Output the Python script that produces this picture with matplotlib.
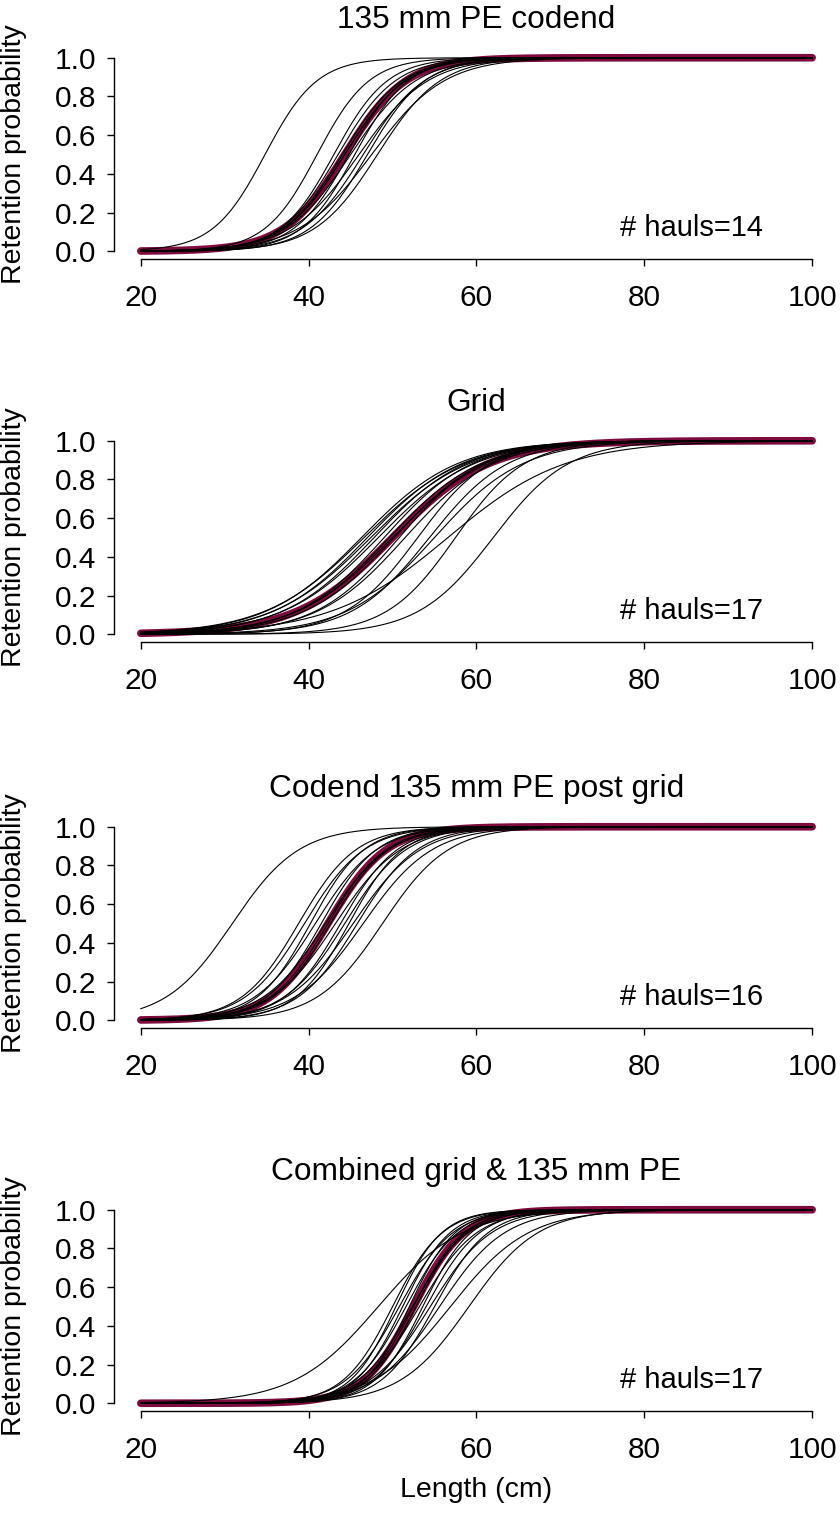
import numpy as np
import matplotlib
matplotlib.use("Agg")
import matplotlib.pyplot as plt

plt.rcParams['font.family'] = ['Liberation Sans', 'DejaVu Sans']

titles = ["135 mm PE codend", "Grid", "Codend 135 mm PE post grid", "Combined grid & 135 mm PE"]
n_hauls = [14, 17, 16, 17]

# per-haul logistic parameters (L50, SR)
p1_l50 = [34.8, 41.0, 43.0, 43.5, 44.0, 44.3, 44.8, 45.0, 45.5, 46.0, 46.5, 47.0, 47.5, 48.2]
p1_sr = [6.8, 6.8, 7.0, 7.5, 7.8, 8.0, 7.2, 8.5, 7.0, 9.0, 8.0, 7.5, 9.5, 8.2]
p2_l50 = [46.3, 46.6, 47.0, 47.4, 47.8, 48.3, 49.0, 49.6, 50.2, 50.8, 51.5, 53.0, 54.4, 55.0, 56.6, 57.5, 62.0]
p2_sr = [12.5, 13.0, 12.3, 12.8, 12.0, 12.5, 11.5, 12.0, 11.8, 11.0, 11.5, 9.5, 10.2, 11.5, 15.3, 9.0, 9.8]
p3_l50 = [30.9, 38.8, 39.5, 40.2, 40.8, 41.5, 42.0, 42.6, 43.2, 43.8, 44.3, 44.8, 45.3, 45.8, 46.5, 48.8]
p3_sr = [8.7, 7.5, 7.8, 7.0, 8.0, 7.2, 8.2, 7.6, 8.5, 7.4, 8.0, 7.0, 8.8, 7.8, 9.0, 8.6]
p4_l50 = [48.3, 50.0, 50.4, 50.8, 51.2, 51.6, 52.0, 52.4, 52.8, 53.2, 53.6, 54.0, 54.5, 55.0, 55.6, 56.9, 59.1]
p4_sr = [11.0, 6.5, 6.0, 7.0, 6.2, 6.8, 6.0, 7.2, 6.5, 7.5, 6.3, 7.0, 8.0, 7.0, 8.5, 10.2, 9.0]

# mean curves (L50, SR)
mean_l50 = [44.3, 50.0, 42.3, 52.5]
mean_sr = [8.0, 12.5, 7.6, 6.6]

haul_l50 = [p1_l50, p2_l50, p3_l50, p4_l50]
haul_sr = [p1_sr, p2_sr, p3_sr, p4_sr]

x_ticks = [20, 40, 60, 80, 100]
y_ticks = [0.0, 0.2, 0.4, 0.6, 0.8, 1.0]
length = np.linspace(20, 100, 400)


def logistic(l, l50, sr):
    return 1.0 / (1.0 + np.exp(-np.log(9.0) * (l - l50) / sr))


W, H = 840, 1526
fig = plt.figure(figsize=(W / 100, H / 100), dpi=100)
tops = [50, 433, 819, 1202]
ph = 209
left, right = 114, 839
crimson = '#7d0b3e'

for i in range(4):
    ax = fig.add_axes([left / W, 1 - (tops[i] + ph) / H, (right - left) / W, ph / H])
    ax.plot(length, logistic(length, mean_l50[i], mean_sr[i]), color=crimson, lw=5.5,
            solid_capstyle='round', zorder=2)
    for l50, sr in zip(haul_l50[i], haul_sr[i]):
        ax.plot(length, logistic(length, l50, sr), color='black', lw=0.8, zorder=3)
    ax.plot(length, logistic(length, mean_l50[i], mean_sr[i]), color='black', lw=0.6, zorder=4)
    ax.set_xlim(16.8, 103.2)
    ax.set_ylim(-0.04, 1.04)
    for s in ['top', 'right']:
        ax.spines[s].set_visible(False)
    ax.spines['left'].set_bounds(0, 1)
    ax.spines['bottom'].set_bounds(20, 100)
    ax.spines['left'].set_linewidth(1.0)
    ax.spines['bottom'].set_linewidth(1.0)
    ax.set_xticks(x_ticks)
    ax.set_xticklabels([str(v) for v in x_ticks])
    ax.set_yticks(y_ticks)
    ax.set_yticklabels([f"{v:.1f}" for v in y_ticks])
    ax.tick_params(axis='both', labelsize=21.5, length=5, width=1.0)
    ax.tick_params(axis='y', pad=8)
    ax.tick_params(axis='x', pad=13)
    ax.set_ylabel("Retention probability", fontsize=20.5)
    ax.yaxis.set_label_coords(-(114 - 27) / (right - left), 0.5)
    ax.text(0.5, 1 + 30 / ph, titles[i], transform=ax.transAxes, ha='center', va='center',
            fontsize=22.8)
    ax.text(85.6, 0.12, f"# hauls={n_hauls[i]}", ha='center', va='center', fontsize=21)

fig.text(476 / W, 1 - 1490 / H, "Length (cm)", ha='center', va='center', fontsize=20.5)

fig.savefig("out.png", dpi=100)
